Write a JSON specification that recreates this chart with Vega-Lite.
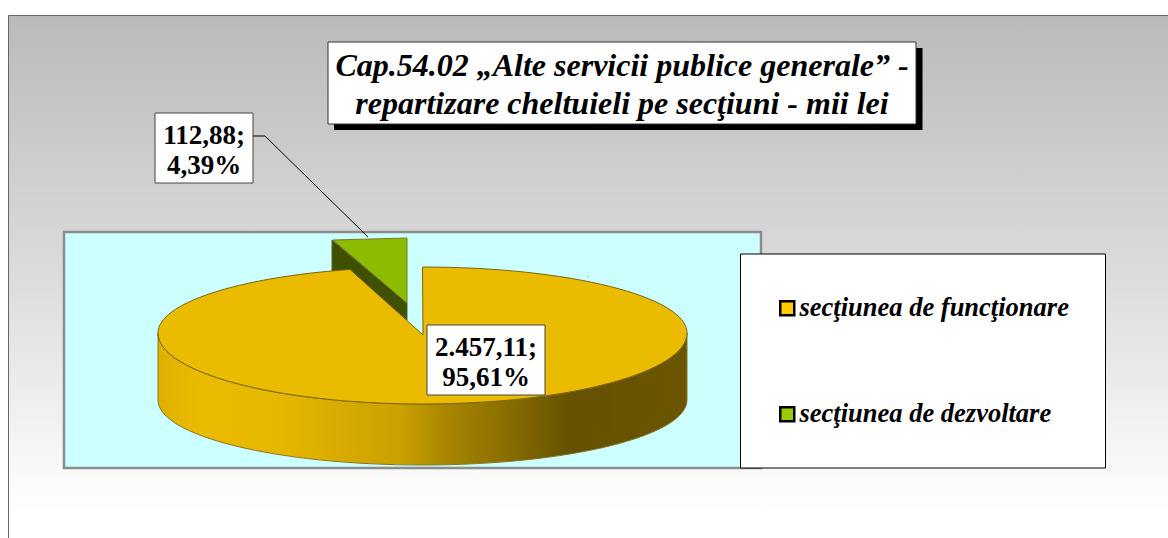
{
"$schema":"https://vega.github.io/schema/vega-lite/v6.json",
"description":"Flattened 3D pie: one row per slice. Vega-Lite arcs are always circular, so the elliptical faces are drawn as hand-traced shape paths mapped by section through shape scales; their angles are traced from the picture, not computed from valoare.",
"autosize":{"type":"none"},
"padding":{"left":8,"top":15,"right":0,"bottom":0},
"width":1160,
"height":523,
"background":"white",
"view":{"stroke":"#666666","strokeWidth":1,"fill":{"gradient":"linear","x1":0,"y1":0,"x2":0,"y2":1,"stops":[{"offset":0,"color":"#bababa"},{"offset":0.5,"color":"#dcdcdc"},{"offset":0.95,"color":"#ffffff"},{"offset":1,"color":"#ffffff"}]}},
"title":{"text":["Cap.54.02 „Alte servicii publice generale” -","repartizare cheltuieli pe secţiuni - mii lei"],"font":"Liberation Serif","fontSize":32,"fontStyle":"italic","fontWeight":"bold","color":"black","lineHeight":38,"anchor":"middle","frame":"group","orient":"top","baseline":"alphabetic","offset":0,"dx":34,"dy":131},
"data":{"values":[
{"sectiune":"secţiunea de funcţionare","valoare":2457.11,"procent":95.61,"eticheta":["2.457,11;","\u00a095,61%"]},
{"sectiune":"secţiunea de dezvoltare","valoare":112.88,"procent":4.39,"eticheta":["112,88;","4,39%"]}
]},
"layer":[
{"transform":[{"filter":"datum.procent > 50"}],"mark":{"type":"point","filled":true,"opacity":1,"size":4,"shape":"M-524,-44.5H173V191.5H-524Z","fill":"#ccffff","stroke":"#8c8c8c","strokeWidth":2.5}},
{"transform":[{"filter":"datum.procent < 50"}],"mark":{"type":"point","filled":false,"opacity":1,"size":4,"shape":"M-335,-140.5L-323,-140.5L-220,-39.5","stroke":"black","strokeWidth":1}},
{"transform":[{"filter":"datum.procent < 50"}],"mark":{"type":"point","filled":true,"opacity":1,"size":4,"shape":"M-256,-36.5L-181,26.5L-181,43.5L-238,-5.5L-256,-5.5Z","fill":"#3f5000","stroke":"#55622a","strokeWidth":1}},
{"mark":{"type":"point","filled":true,"opacity":1,"size":4,"stroke":"#7b7a20","strokeWidth":1},
 "transform":[{"filter":"datum.procent < 50"}],
 "encoding":{"color":{"field":"sectiune","type":"nominal","legend":null,"scale":{"domain":["secţiunea de funcţionare","secţiunea de dezvoltare"],"range":["#ebbb00","#8dbb00"]}},
  "shape":{"field":"sectiune","type":"nominal","legend":null,"scale":{"domain":["secţiunea de funcţionare","secţiunea de dezvoltare"],"range":["M-165.5,-9.5A264.5,66 0 0 1 99,56.5A264.5,71 0 0 1 -430,56.5A264.5,66 0 0 1 -238,-7L-165,58.5Z","M-255,-36.5L-181,-38.5L-181,26.5Z"]}}}},
{"transform":[{"filter":"datum.procent > 50"}],"mark":{"type":"point","filled":true,"opacity":1,"size":4,"shape":"M-430,56.5A264.5,71 0 0 0 99,56.5L99,123.5A264.5,65 0 0 1 -430,123.5Z","stroke":"#8a7420","strokeWidth":1,
 "fill":{"gradient":"linear","x1":0,"y1":0,"x2":1,"y2":0,"stops":[{"offset":0,"color":"#dfb000"},{"offset":0.08,"color":"#ebbb00"},{"offset":0.23,"color":"#e6b700"},{"offset":0.46,"color":"#c9a000"},{"offset":0.53,"color":"#ad8a00"},{"offset":0.65,"color":"#8b6f00"},{"offset":0.78,"color":"#655100"},{"offset":1,"color":"#6b5500"}]}}},
{"mark":{"type":"point","filled":true,"opacity":1,"size":4,"stroke":"#7a6410","strokeWidth":1},
 "transform":[{"filter":"datum.procent > 50"}],
 "encoding":{"color":{"field":"sectiune","type":"nominal","legend":null,"scale":{"domain":["secţiunea de funcţionare","secţiunea de dezvoltare"],"range":["#ebbb00","#8dbb00"]}},
  "shape":{"field":"sectiune","type":"nominal","legend":null,"scale":{"domain":["secţiunea de funcţionare","secţiunea de dezvoltare"],"range":["M-165.5,-9.5A264.5,66 0 0 1 99,56.5A264.5,71 0 0 1 -430,56.5A264.5,66 0 0 1 -238,-7L-165,58.5Z","M-255,-36.5L-181,-38.5L-181,26.5Z"]}}}},
{"mark":{"type":"point","filled":true,"opacity":1,"size":4,"fill":"white","stroke":"#444444","strokeWidth":1},
 "encoding":{
  "x":{"field":"sectiune","type":"nominal","axis":null,"scale":{"type":"point","padding":0,"domain":["secţiunea de funcţionare","secţiunea de dezvoltare"],"range":[478,196]}},
  "y":{"field":"sectiune","type":"nominal","axis":null,"scale":{"type":"point","padding":0,"domain":["secţiunea de funcţionare","secţiunea de dezvoltare"],"range":[345,133]}},
  "shape":{"field":"sectiune","type":"nominal","legend":null,"scale":{"domain":["secţiunea de funcţionare","secţiunea de dezvoltare"],"range":["M-59,-35H59V35H-59Z","M-49,-35H49V35H-49Z"]}}}},
{"mark":{"type":"text","font":"Liberation Serif","fontSize":27,"fontWeight":"bold","color":"black","align":"center","baseline":"middle","lineHeight":30,"dy":-12},
 "encoding":{
  "x":{"field":"sectiune","type":"nominal","axis":null,"scale":{"type":"point","padding":0,"domain":["secţiunea de funcţionare","secţiunea de dezvoltare"],"range":[478,196]}},
  "y":{"field":"sectiune","type":"nominal","axis":null,"scale":{"type":"point","padding":0,"domain":["secţiunea de funcţionare","secţiunea de dezvoltare"],"range":[345,133]}},
  "text":{"field":"eticheta"}}},
{"transform":[{"filter":"datum.procent > 50"}],"mark":{"type":"point","filled":true,"opacity":1,"size":4,"shape":"M-254,-228.5H334.5V-146.5H-254Z","fill":"black","stroke":"black","strokeWidth":0}},
{"transform":[{"filter":"datum.procent > 50"}],"mark":{"type":"point","filled":true,"opacity":1,"size":4,"shape":"M-260,-234.5H328V-152.5H-260Z","fill":"white","stroke":"#333333","strokeWidth":1}},
{"transform":[{"filter":"datum.procent > 50"}],"mark":{"type":"point","filled":true,"opacity":1,"size":4,"shape":"M152.5,-22.5H517.5V191.5H152.5Z","fill":"white","stroke":"black","strokeWidth":1}},
{"mark":{"type":"square","opacity":1,"size":1},
 "encoding":{"fill":{"field":"sectiune","type":"nominal","scale":{"domain":["secţiunea de funcţionare","secţiunea de dezvoltare"],"range":["#ffcc00","#99cc00"]},
  "legend":{"title":null,"orient":"none","legendX":766,"legendY":280,"padding":0,"symbolType":"square","symbolSize":196,"symbolStrokeColor":"black","symbolStrokeWidth":2.5,"symbolOpacity":1,"labelFont":"Liberation Serif","labelFontSize":26.5,"labelFontStyle":"italic","labelFontWeight":"bold","labelColor":"black","labelOffset":-1,"labelLimit":400,"rowPadding":79}}}}
],
"resolve":{"scale":{"shape":"independent","x":"independent","y":"independent"},"legend":{"fill":"independent"}}
}
